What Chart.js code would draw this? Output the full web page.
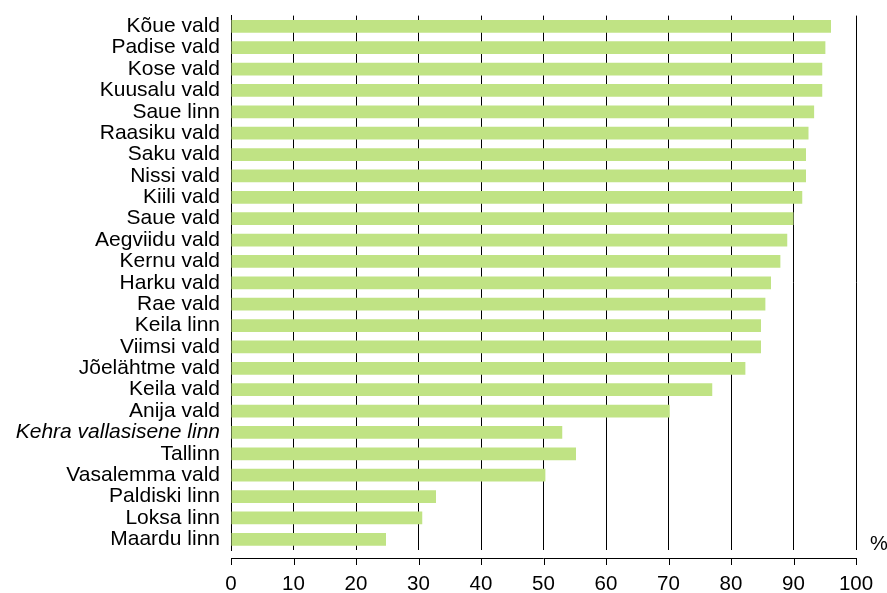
<!DOCTYPE html>
<html>
<head>
<meta charset="utf-8">
<script src="https://cdn.jsdelivr.net/npm/chart.js@4"></script>
<style>
html,body{margin:0;padding:0;background:#fff;}
#wrap{width:887px;height:593px;}
</style>
</head>
<body>
<div id="wrap"><canvas id="chart" width="887" height="593"></canvas></div>
<script>
const labels = ["Kõue vald","Padise vald","Kose vald","Kuusalu vald","Saue linn","Raasiku vald","Saku vald","Nissi vald","Kiili vald","Saue vald","Aegviidu vald","Kernu vald","Harku vald","Rae vald","Keila linn","Viimsi vald","Jõelähtme vald","Keila vald","Anija vald","Kehra vallasisene linn","Tallinn","Vasalemma vald","Paldiski linn","Loksa linn","Maardu linn"];
const values = [96.0,95.1,94.6,94.6,93.3,92.4,92.0,92.0,91.4,90.0,89.0,87.9,86.4,85.5,84.8,84.8,82.3,77.0,70.2,53.0,55.2,50.3,32.8,30.6,24.8];
const italicLabels = ["Kehra vallasisene linn"];
const xTicks = [0,10,20,30,40,50,60,70,80,90,100];

const FONT = "'Liberation Sans', Arial, sans-serif";

// bottom axis sits a bit below the plot, plus the % sign
const axisPlugin = {
  id:"axisPlugin",
  afterDraw(chart){
    const ctx = chart.ctx;
    const x = chart.scales.x;
    const a = chart.chartArea;
    const y0 = a.bottom + 8;
    ctx.save();
    ctx.strokeStyle = "#000";
    ctx.lineWidth = 1;
    ctx.beginPath();
    ctx.moveTo(x.getPixelForValue(0), y0 + 0.5);
    ctx.lineTo(x.getPixelForValue(100), y0 + 0.5);
    xTicks.forEach(v=>{
      const px = Math.round(x.getPixelForValue(v)) + 0.5;
      ctx.moveTo(px, y0);
      ctx.lineTo(px, y0 + 7);
    });
    ctx.stroke();
    ctx.fillStyle = "#000";
    ctx.font = "20px " + FONT;
    ctx.textAlign = "center";
    ctx.textBaseline = "middle";
    ctx.fillText("%", a.right + 23, a.bottom - 6);
    ctx.restore();
  }
};

new Chart(document.getElementById("chart"),{
  type:"bar",
  data:{
    labels:labels,
    datasets:[{
      data:values,
      backgroundColor:"#c0e384",
      borderWidth:0,
      barPercentage:0.6,
      categoryPercentage:1
    }]
  },
  options:{
    indexAxis:"y",
    responsive:false,
    animation:false,
    layout:{padding:{top:6,right:31,left:0,bottom:0}},
    plugins:{legend:{display:false},tooltip:{enabled:false}},
    scales:{
      x:{
        min:0,max:100,
        afterBuildTicks(s){ s.ticks = xTicks.map(v=>({value:v})); },
        afterFit(s){ s.height = 43; s.paddingRight = 0; s.paddingLeft = 0; },
        grid:{color:"#000",lineWidth:1,drawTicks:false},
        border:{display:false},
        ticks:{color:"#000",padding:22,font:{family:FONT,size:20.5}}
      },
      y:{
        afterFit(s){ s.width = 231; },
        grid:{display:false},
        border:{display:true,color:"#000",width:1},
        ticks:{
          color:"#000",padding:3,autoSkip:false,
          font:c=>({family:FONT,size:21,style:italicLabels.includes(labels[c.index])?"italic":"normal"})
        }
      }
    }
  },
  plugins:[axisPlugin]
});
</script>
</body>
</html>
